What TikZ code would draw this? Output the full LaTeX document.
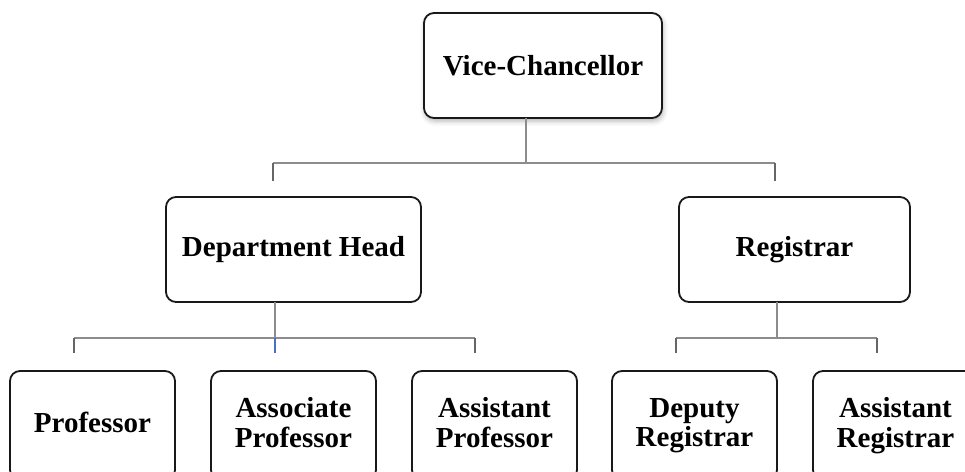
\documentclass[tikz,border=0pt]{standalone}
\usepackage{fontspec}
\setmainfont{Liberation Serif}
\usetikzlibrary{shadows.blur}
\definecolor{tickblue}{RGB}{68,114,196}
\newcommand{\lnx}{\vphantom{Ag}}
\begin{document}
\begin{tikzpicture}[x=1pt,y=1pt,
  box/.style={draw=black!90, line width=1.8pt, rounded corners=10pt, fill=white,
    minimum height=105pt, align=center, inner sep=2pt,
    font=\fontsize{29}{29.5}\selectfont\bfseries},
  lowbox/.style={box, minimum width=165pt, minimum height=109pt},
  conn/.style={draw=black!45, line width=2pt},
  tick/.style={draw=black!60, line width=2pt},
  bluetick/.style={draw=tickblue, line width=2pt}]
\useasboundingbox (0,0) rectangle (965,-471);
\clip (0,0) rectangle (965,-471);
% nodes
\node[box, minimum width=238pt, blur shadow={shadow xshift=1pt, shadow yshift=-3pt, shadow blur radius=5pt, shadow opacity=30}] (vc) at (543,-65.5) {Vice-Chancellor};
\node[box, minimum width=255pt] (dh) at (293.5,-249.5) {Department Head};
\node[box, minimum width=231pt] (reg) at (794.5,-249.5) {Registrar};
\node[lowbox] (prof) at (92.5,-425.5) {\lnx Professor};
\node[lowbox] (assoc) at (293.5,-425.5) {\lnx Associate\\\lnx Professor};
\node[lowbox] (asstp) at (494.5,-425.5) {\lnx Assistant\\\lnx Professor};
\node[lowbox] (dep) at (694.5,-425.5) {\lnx Deputy\\\lnx Registrar};
\node[lowbox] (asstr) at (895.5,-425.5) {\lnx Assistant\\\lnx Registrar};
% connector coordinates
\coordinate (vcS) at (526,-118);
\coordinate (vcJ) at (526,-163);
\coordinate (dhE) at (273,-163);
\coordinate (regE) at (775,-163);
\coordinate (dhD) at (273,-181);
\coordinate (regD) at (775,-181);
\coordinate (dhS) at (275,-302);
\coordinate (dhJ) at (275,-338);
\coordinate (profE) at (74,-338);
\coordinate (asstpE) at (475,-338);
\coordinate (profD) at (74,-353);
\coordinate (assocD) at (275,-353);
\coordinate (asstpD) at (475,-353);
\coordinate (regS) at (777,-302);
\coordinate (regJ) at (777,-338);
\coordinate (depE) at (676,-338);
\coordinate (asstrE) at (877,-338);
\coordinate (depD) at (676,-353);
\coordinate (asstrD) at (877,-353);
% connectors
\draw[conn] (vcS) -- (vcJ);
\draw[conn] (dhE) -- (regE);
\draw[tick] (dhE) -- (dhD);
\draw[tick] (regE) -- (regD);
\draw[conn] (dhS) -- (dhJ);
\draw[conn] (profE) -- (asstpE);
\draw[tick] (profE) -- (profD);
\draw[bluetick] (dhJ) -- (assocD);
\draw[tick] (asstpE) -- (asstpD);
\draw[conn] (regS) -- (regJ);
\draw[conn] (depE) -- (asstrE);
\draw[tick] (depE) -- (depD);
\draw[tick] (asstrE) -- (asstrD);
\end{tikzpicture}
\end{document}
